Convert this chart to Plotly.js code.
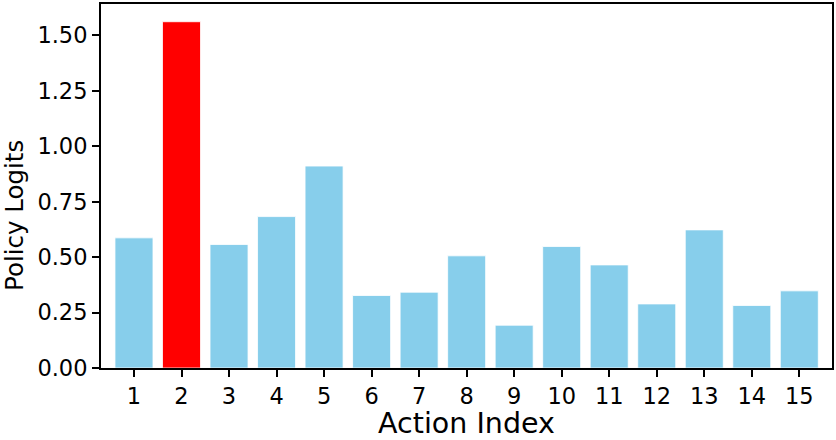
<!DOCTYPE html>
<html>
<head>
<meta charset="utf-8">
<script src="https://cdn.plot.ly/plotly-3.0.1.min.js"></script>
<style>html,body{margin:0;padding:0;background:#fff;}#chart{width:836px;height:440px;}</style>
</head>
<body>
<div id="chart"></div>
<script>
const actions = [1, 2, 3, 4, 5, 6, 7, 8, 9, 10, 11, 12, 13, 14, 15];
const logits = [0.587, 1.562, 0.557, 0.683, 0.911, 0.327, 0.342, 0.506, 0.193, 0.548, 0.465, 0.289, 0.623, 0.282, 0.348];
const highlightAction = 2;
const yTickVals = [0, 0.25, 0.5, 0.75, 1.0, 1.25, 1.5];
const xTitle = 'Action Index';
const yTitle = 'Policy Logits';

const colors = actions.map(a => a === highlightAction ? '#ff0000' : '#87ceeb');

const trace = {
  type: 'bar',
  x: actions,
  y: logits,
  width: 0.8,
  marker: {color: colors, line: {color: '#ffffff', width: 0.8}},
  hoverinfo: 'x+y'
};

const fontFamily = 'DejaVu Sans, sans-serif';
const layout = {
  width: 836,
  height: 440,
  margin: {l: 101, r: 4, t: 4, b: 72, pad: 0},
  paper_bgcolor: '#ffffff',
  plot_bgcolor: '#ffffff',
  showlegend: false,
  font: {family: fontFamily, color: '#000000', size: 22},
  xaxis: {
    range: [0.306, 15.688],
    tickmode: 'array',
    tickvals: actions,
    ticktext: actions.map(String),
    ticks: 'outside',
    ticklen: 7,
    tickwidth: 2,
    tickcolor: '#000',
    showline: true,
    linecolor: '#000',
    linewidth: 2,
    mirror: true,
    showgrid: false,
    zeroline: false,
    tickfont: {size: 22.5, family: fontFamily},
    title: {text: xTitle, font: {size: 28.5, family: fontFamily}, standoff: 12},
    automargin: false
  },
  yaxis: {
    range: [0, 1.642],
    tickmode: 'array',
    tickvals: yTickVals,
    ticktext: yTickVals.map(v => v.toFixed(2)),
    ticks: 'outside',
    ticklen: 7,
    tickwidth: 2,
    tickcolor: '#000',
    showline: true,
    linecolor: '#000',
    linewidth: 2,
    mirror: true,
    showgrid: false,
    zeroline: false,
    tickfont: {size: 22.5, family: fontFamily},
    automargin: false
  },
  annotations: [{
    text: yTitle,
    xref: 'paper', yref: 'paper',
    x: (15 - 101) / 731, y: (368 - 216) / 364,
    xanchor: 'center', yanchor: 'middle',
    textangle: -90,
    showarrow: false,
    font: {size: 24.5, family: fontFamily, color: '#000'}
  }]
};

Plotly.newPlot('chart', [trace], layout, {displayModeBar: false, staticPlot: true});
</script>
</body>
</html>
